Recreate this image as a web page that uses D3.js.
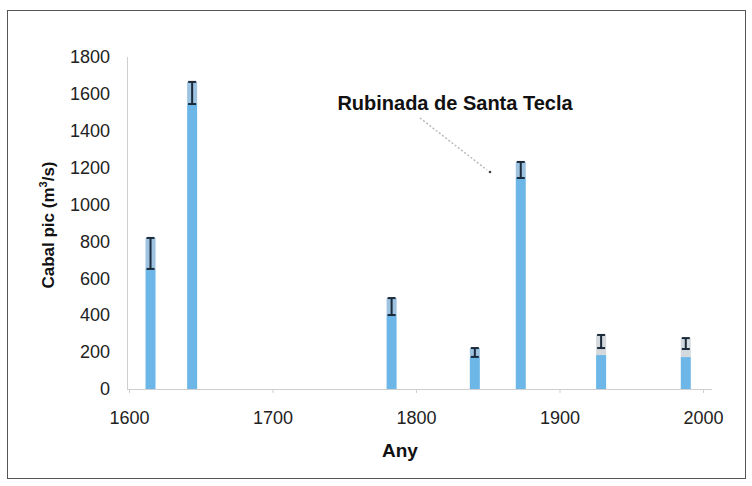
<!DOCTYPE html>
<html><head><meta charset="utf-8">
<script src="https://cdn.jsdelivr.net/npm/d3@7"></script>
<style>body{margin:0;background:#fff;} svg{display:block;font-family:"Liberation Sans",Arial,sans-serif;}</style>
</head><body>
<svg id="c" width="752" height="486"></svg>
<script>
const years = [1615, 1644, 1783, 1841, 1873, 1929, 1988];
const barValues = [651, 1545, 401, 174, 1144, 184, 173];
const errLow = [651, 1545, 401, 174, 1144, 222, 217];
const errHigh = [819, 1665, 493, 222, 1231, 293, 276];
const yTicks = [0, 200, 400, 600, 800, 1000, 1200, 1400, 1600, 1800];
const xTicks = [1600, 1700, 1800, 1900, 2000];
const annotation = "Rubinada de Santa Tecla";

const svg = d3.select("#c");
svg.append("rect").attr("x", 7.5).attr("y", 10.5).attr("width", 738).attr("height", 468)
  .attr("fill", "#fff").attr("stroke", "#555").attr("stroke-width", 1);

const x = d3.scaleLinear().domain([1600, 2000]).range([129, 703]);
const y = d3.scaleLinear().domain([0, 1800]).range([389, 57]);

// axes lines
svg.append("line").attr("x1", 127.5).attr("x2", 127.5).attr("y1", y(1800)).attr("y2", y(0))
  .attr("stroke", "#cfcfcf");
svg.append("line").attr("x1", 127).attr("x2", 712).attr("y1", y(0) + 0.5).attr("y2", y(0) + 0.5)
  .attr("stroke", "#cfcfcf");

const yAxis = d3.axisLeft(y).tickValues(yTicks).tickSize(0).tickPadding(17).tickFormat(d3.format("d"));
const gy = svg.append("g").attr("transform", "translate(127,0)").call(yAxis);
gy.select(".domain").remove();
gy.selectAll("text").attr("font-size", 18).attr("fill", "#222").attr("font-family", "Liberation Sans, Arial, sans-serif");

const xAxis = d3.axisBottom(x).tickValues(xTicks).tickSize(4).tickPadding(18).tickFormat(d3.format("d"));
const gx = svg.append("g").attr("transform", `translate(0,${y(0)})`).call(xAxis);
gx.select(".domain").remove();
gx.selectAll("line").attr("stroke", "#cfcfcf");
gx.selectAll("text").attr("font-size", 18).attr("fill", "#222").attr("font-family", "Liberation Sans, Arial, sans-serif");

const bw = 10;
const data = years.map((yr, i) => ({yr, v: barValues[i], lo: errLow[i], hi: errHigh[i]}));

// shaded uncertainty band
svg.selectAll("rect.band").data(data).enter().append("rect").attr("class", "band")
  .attr("x", d => x(d.yr) - bw / 2).attr("width", bw)
  .attr("y", d => y(d.hi)).attr("height", d => y(d.v) - y(d.hi))
  .attr("fill", d => d.lo > d.v ? "#d3d9dc" : "#9ec3e0");

svg.selectAll("rect.bar").data(data).enter().append("rect").attr("class", "bar")
  .attr("x", d => x(d.yr) - bw / 2).attr("width", bw)
  .attr("y", d => y(d.v)).attr("height", d => y(0) - y(d.v))
  .attr("fill", "#6db7e8");

// error bars
const eb = svg.selectAll("g.err").data(data).enter().append("g").attr("class", "err")
  .attr("stroke", "#1a2a3a").attr("stroke-width", 2);
eb.append("line").attr("x1", d => x(d.yr)).attr("x2", d => x(d.yr))
  .attr("y1", d => y(d.hi)).attr("y2", d => y(d.lo));
eb.append("line").attr("x1", d => x(d.yr) - 4).attr("x2", d => x(d.yr) + 4)
  .attr("y1", d => y(d.hi)).attr("y2", d => y(d.hi));
eb.append("line").attr("x1", d => x(d.yr) - 4).attr("x2", d => x(d.yr) + 4)
  .attr("y1", d => y(d.lo)).attr("y2", d => y(d.lo));

// annotation
svg.append("text").attr("x", 455).attr("y", 110).attr("text-anchor", "middle")
  .attr("font-size", 20).attr("font-weight", "bold").attr("fill", "#111").text(annotation);
svg.append("line").attr("x1", 420).attr("y1", 118).attr("x2", 487).attr("y2", 170)
  .attr("stroke", "#bbb").attr("stroke-width", 1.5).attr("stroke-dasharray", "2,2");
svg.append("circle").attr("cx", 490).attr("cy", 172).attr("r", 1.3).attr("fill", "#444");

// axis titles
svg.append("text").attr("transform", "translate(54,225) rotate(-90)").attr("text-anchor", "middle")
  .attr("font-size", 17).attr("font-weight", "bold").attr("fill", "#111")
  .html('Cabal pic (m<tspan dy="-7" font-size="11">3</tspan><tspan dy="7">/s)</tspan>');
svg.append("text").attr("x", 400).attr("y", 457).attr("text-anchor", "middle")
  .attr("font-size", 19).attr("font-weight", "bold").attr("fill", "#111").text("Any");
</script>
</body></html>
